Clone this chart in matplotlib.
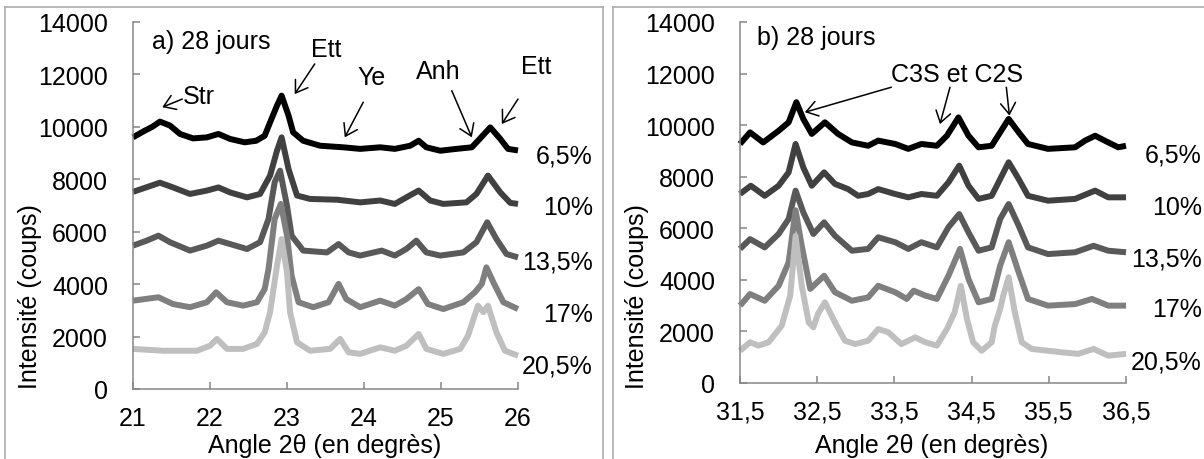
import numpy as np
import matplotlib
matplotlib.use("Agg")
import matplotlib.pyplot as plt
from matplotlib.lines import Line2D
from matplotlib.ticker import FuncFormatter

plt.rcParams['font.family'] = ['Liberation Sans', 'DejaVu Sans']

# teneurs et couleurs des diffractogrammes
teneurs = ['6,5%', '10%', '13,5%', '17%', '20,5%']
couleurs = ['#000000', '#404040', '#595959', '#7f7f7f', '#bfbfbf']

# a) domaine 21-26 degrés
a_x_65 = [21.00, 21.15, 21.25, 21.35, 21.48, 21.61, 21.78, 21.96, 22.11, 22.26,
          22.45, 22.60, 22.71, 22.78, 22.87, 22.93, 23.02, 23.08, 23.21, 23.43,
          23.73, 23.95, 24.21, 24.40, 24.60, 24.71, 24.81, 24.99, 25.20, 25.40,
          25.48, 25.64, 25.77, 25.87, 26.00]
a_y_65 = [9600, 9850, 10000, 10200, 10050, 9730, 9560, 9600, 9730, 9540,
          9410, 9470, 9660, 10170, 10810, 11190, 10430, 9790, 9470, 9280,
          9220, 9160, 9220, 9160, 9280, 9470, 9220, 9090, 9160, 9220,
          9470, 9980, 9540, 9160, 9100]

a_x_10 = [21.00, 21.18, 21.35, 21.52, 21.74, 21.96, 22.11, 22.26, 22.48, 22.65,
          22.78, 22.87, 22.93, 23.02, 23.13, 23.30, 23.65, 23.95, 24.21, 24.40,
          24.55, 24.71, 24.86, 25.03, 25.33, 25.46, 25.61, 25.77, 25.90, 26.00]
a_y_10 = [7520, 7700, 7870, 7690, 7440, 7570, 7690, 7500, 7310, 7440,
          8140, 9090, 9600, 8390, 7380, 7250, 7220, 7120, 7190, 7060,
          7310, 7570, 7190, 7060, 7120, 7440, 8140, 7500, 7100, 7060]

a_x_135 = [21.00, 21.17, 21.33, 21.48, 21.74, 21.96, 22.11, 22.26, 22.48, 22.65,
           22.76, 22.84, 22.91, 23.00, 23.06, 23.21, 23.52, 23.67, 23.80, 23.95,
           24.23, 24.40, 24.55, 24.68, 24.81, 24.99, 25.29, 25.46, 25.60, 25.72,
           25.85, 26.00]
a_y_135 = [5470, 5650, 5850, 5600, 5280, 5470, 5660, 5530, 5340, 5600,
           6490, 7890, 8330, 6990, 5850, 5280, 5210, 5530, 5210, 5090,
           5280, 5090, 5340, 5660, 5210, 5090, 5210, 5600, 6360, 5720,
           5150, 5020]

a_x_17 = [21.00, 21.33, 21.52, 21.74, 21.96, 22.08, 22.22, 22.43, 22.61, 22.71,
          22.76, 22.84, 22.92, 23.00, 23.06, 23.15, 23.34, 23.54, 23.67, 23.77,
          23.95, 24.21, 24.40, 24.55, 24.71, 24.83, 25.03, 25.29, 25.44, 25.53,
          25.59, 25.68, 25.81, 26.00]
a_y_17 = [3370, 3500, 3240, 3120, 3310, 3690, 3310, 3180, 3310, 3810,
          4580, 6490, 7060, 5850, 4320, 3310, 3120, 3310, 4010, 3430,
          3120, 3370, 3180, 3430, 3810, 3240, 3050, 3310, 3690, 4010,
          4640, 4070, 3310, 3050]

a_x_205 = [21.00, 21.39, 21.83, 22.00, 22.09, 22.22, 22.43, 22.61, 22.71, 22.78,
           22.87, 22.93, 23.00, 23.04, 23.13, 23.30, 23.56, 23.69, 23.80, 23.95,
           24.21, 24.40, 24.55, 24.71, 24.81, 25.03, 25.25, 25.35, 25.48, 25.55,
           25.61, 25.72, 25.83, 26.00]
a_y_205 = [1530, 1460, 1460, 1650, 1910, 1530, 1530, 1720, 2160, 2930,
           4700, 5720, 4450, 2930, 1780, 1460, 1530, 1910, 1400, 1340,
           1590, 1460, 1650, 2100, 1530, 1340, 1530, 2030, 3180, 2930,
           3180, 2160, 1460, 1270]

# b) domaine 31,5-36,5 degrés
b_x_65 = [31.50, 31.63, 31.80, 32.00, 32.13, 32.23, 32.32, 32.43, 32.60, 32.77,
          32.95, 33.16, 33.29, 33.51, 33.68, 33.85, 34.05, 34.18, 34.33, 34.46,
          34.59, 34.76, 34.87, 34.98, 35.11, 35.23, 35.49, 35.84, 35.97, 36.10,
          36.27, 36.40, 36.50]
b_y_65 = [9270, 9720, 9330, 9780, 10110, 10890, 10240, 9660, 10110, 9660,
          9330, 9200, 9400, 9270, 9080, 9270, 9200, 9590, 10300, 9590,
          9140, 9200, 9720, 10240, 9720, 9270, 9080, 9140, 9400, 9590,
          9330, 9140, 9200]

b_x_10 = [31.50, 31.64, 31.82, 32.00, 32.13, 32.22, 32.32, 32.43, 32.59, 32.73,
          32.90, 33.03, 33.16, 33.29, 33.51, 33.68, 33.85, 34.05, 34.20, 34.34,
          34.46, 34.59, 34.76, 34.87, 34.98, 35.11, 35.23, 35.49, 35.84, 36.10,
          36.27, 36.50]
b_y_10 = [7330, 7650, 7260, 7650, 8170, 9270, 8360, 7650, 8170, 7720,
          7520, 7260, 7330, 7520, 7330, 7200, 7330, 7260, 7780, 8430,
          7650, 7140, 7260, 7910, 8560, 7910, 7260, 7070, 7140, 7460,
          7200, 7200]

b_x_135 = [31.50, 31.63, 31.82, 32.00, 32.13, 32.22, 32.32, 32.45, 32.59, 32.73,
           32.95, 33.16, 33.29, 33.51, 33.68, 33.85, 34.05, 34.20, 34.34, 34.46,
           34.59, 34.76, 34.87, 34.98, 35.11, 35.23, 35.49, 35.84, 36.08, 36.27,
           36.50]
b_y_135 = [5200, 5580, 5260, 5780, 6360, 7460, 6620, 5780, 6230, 5710,
           5130, 5200, 5650, 5460, 5200, 5460, 5260, 6040, 6550, 5840,
           5130, 5260, 6360, 6940, 6100, 5260, 5000, 5070, 5320, 5130,
           5070]

b_x_17 = [31.50, 31.63, 31.82, 32.00, 32.13, 32.22, 32.30, 32.41, 32.59, 32.73,
          32.95, 33.16, 33.29, 33.51, 33.66, 33.75, 33.90, 34.05, 34.20, 34.35,
          34.46, 34.59, 34.76, 34.87, 34.98, 35.11, 35.23, 35.49, 35.84, 36.06,
          36.27, 36.50]
b_y_17 = [3000, 3450, 3190, 3770, 4680, 6700, 5320, 3650, 4160, 3520,
          3190, 3320, 3770, 3520, 3260, 3580, 3390, 3260, 4160, 5200,
          4030, 3130, 3260, 4550, 5460, 4290, 3260, 3000, 3060, 3260,
          3000, 3000]

b_x_205 = [31.50, 31.63, 31.74, 31.87, 32.04, 32.15, 32.22, 32.30, 32.39, 32.45,
           32.51, 32.60, 32.73, 32.86, 32.99, 33.16, 33.29, 33.42, 33.59, 33.77,
           33.90, 34.05, 34.18, 34.28, 34.36, 34.44, 34.52, 34.63, 34.76, 34.80,
           34.87, 34.91, 34.98, 35.06, 35.15, 35.28, 35.67, 35.88, 36.08, 36.27,
           36.50]
b_y_205 = [1250, 1580, 1450, 1580, 2220, 3390, 5700, 3770, 2350, 2160,
           2680, 3130, 2350, 1640, 1510, 1640, 2090, 1970, 1510, 1770,
           1580, 1450, 2090, 2740, 3770, 2480, 1580, 1250, 1580, 2220,
           2870, 3390, 4100, 2740, 1580, 1320, 1190, 1130, 1320, 1060,
           1130]

# position verticale des étiquettes de teneur
a_y_etiq = [8890, 6940, 4880, 2860, 880]
b_y_etiq = [8880, 6830, 4810, 2870, 850]

FS = 18
GRIS_AXE = '#868686'


def virgule(val, pos):
    txt = ('%.1f' % val).replace('.', ',')
    return txt[:-2] if txt.endswith(',0') else txt


def preparer_axe(ax, xmin, xmax):
    ax.set_xlim(xmin, xmax)
    ax.set_ylim(0, 14000)
    ax.set_xticks(np.arange(xmin, xmax + 0.01, 1.0))
    ax.set_yticks(np.arange(0, 14001, 2000))
    ax.xaxis.set_major_formatter(FuncFormatter(virgule))
    for cote in ['top', 'right']:
        ax.spines[cote].set_visible(False)
    for cote in ['left', 'bottom']:
        ax.spines[cote].set_color(GRIS_AXE)
        ax.spines[cote].set_linewidth(1.1)
    ax.tick_params(direction='in', length=5, width=1.1, color=GRIS_AXE,
                   labelsize=FS, labelcolor='black')
    ax.tick_params(axis='x', pad=12)
    ax.tick_params(axis='y', pad=18)
    ax.patch.set_alpha(0)


def fleche(ax, queue, tete):
    ax.annotate('', xy=tete, xytext=queue, annotation_clip=False,
                arrowprops=dict(arrowstyle='->, head_length=0.45, head_width=0.3',
                                mutation_scale=18, lw=1.1, color='black',
                                shrinkA=0, shrinkB=0))


fig = plt.figure(figsize=(12.04, 4.6), dpi=100)

# cadres des deux graphiques
for x0, x1 in [(5, 603), (613, 1210)]:
    haut = 1 - 8 / 460
    fig.add_artist(Line2D([x0 / 1204, x1 / 1204], [haut, haut], transform=fig.transFigure,
                          color='#a6a6a6', lw=1.1))
    for xv in (x0, x1):
        fig.add_artist(Line2D([xv / 1204, xv / 1204], [-0.02, haut], transform=fig.transFigure,
                              color='#a6a6a6', lw=1.1))

ax_a = fig.add_axes([133 / 1204, 70 / 460, 385 / 1204, 367 / 460])
ax_b = fig.add_axes([740 / 1204, 76 / 460, 386 / 1204, 361 / 460])

preparer_axe(ax_a, 21, 26)
preparer_axe(ax_b, 31.5, 36.5)

a_courbes = [(a_x_65, a_y_65), (a_x_10, a_y_10), (a_x_135, a_y_135),
             (a_x_17, a_y_17), (a_x_205, a_y_205)]
b_courbes = [(b_x_65, b_y_65), (b_x_10, b_y_10), (b_x_135, b_y_135),
             (b_x_17, b_y_17), (b_x_205, b_y_205)]

for ax, courbes, y_etiq, x_etiq in [(ax_a, a_courbes, a_y_etiq, 26.97),
                                     (ax_b, b_courbes, b_y_etiq, 37.48)]:
    for (xs, ys), coul, nom, ye in zip(courbes, couleurs, teneurs, y_etiq):
        ax.plot(xs, ys, color=coul, lw=4.3, solid_joinstyle='round',
                solid_capstyle='butt', clip_on=False)
        ax.text(x_etiq, ye, nom, fontsize=FS, ha='right', va='center', clip_on=False)

# a) phases repérées
ax_a.text(21.25, 13280, 'a) 28 jours', fontsize=FS, ha='left', va='center')
ax_a.text(21.65, 11180, 'Str', fontsize=FS, ha='left', va='center')
fleche(ax_a, (21.64, 11060), (21.38, 10750))
ax_a.text(23.51, 12970, 'Ett', fontsize=FS, ha='center', va='center')
fleche(ax_a, (23.36, 12400), (23.10, 11250))
ax_a.text(24.10, 11900, 'Ye', fontsize=FS, ha='center', va='center')
fleche(ax_a, (23.99, 10940), (23.75, 9600))
ax_a.text(24.97, 12130, 'Anh', fontsize=FS, ha='center', va='center')
fleche(ax_a, (25.14, 11380), (25.40, 9600))
ax_a.text(26.24, 12320, 'Ett', fontsize=FS, ha='center', va='center', clip_on=False)
fleche(ax_a, (26.00, 11060), (25.79, 10110))

# b) silicates
ax_b.text(31.72, 13420, 'b) 28 jours', fontsize=FS, ha='left', va='center')
ax_b.text(34.31, 11980, 'C3S et C2S', fontsize=FS, ha='center', va='center')
fleche(ax_b, (33.46, 11470), (32.34, 10500))
fleche(ax_b, (34.22, 11470), (34.09, 10040))
fleche(ax_b, (34.95, 11470), (34.99, 10370))

# titres des axes
for xc_y, xc_x in [(30, 325), (637, 932)]:
    fig.text(xc_y / 1204, 1 - 297 / 460, 'Intensité (coups)', fontsize=FS,
             rotation=90, ha='center', va='center')
    fig.text(xc_x / 1204, 1 - 446 / 460, 'Angle 2θ (en degrès)', fontsize=FS,
             ha='center', va='center')

fig.savefig('out.png', dpi=100)
